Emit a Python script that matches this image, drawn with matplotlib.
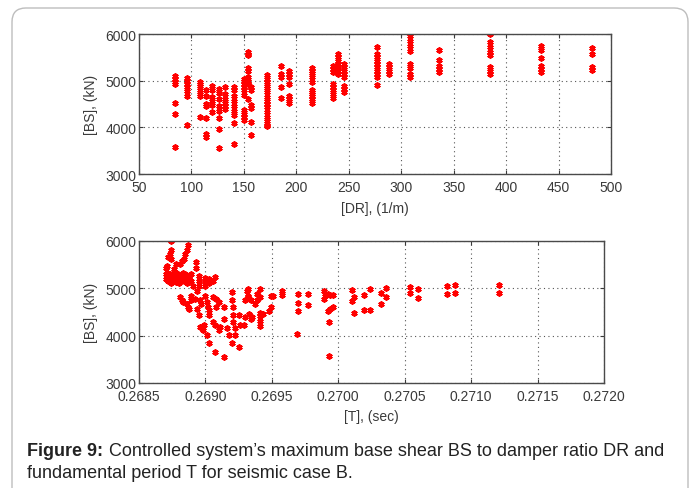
import matplotlib
matplotlib.use("Agg")
import matplotlib.pyplot as plt
from matplotlib.patches import FancyBboxPatch

plt.rcParams['font.family'] = ['Liberation Sans', 'DejaVu Sans']

# top plot: damper ratio DR vs base shear BS
dr = ([84] * 7 + [96] * 7 + [108] * 7 + [114] * 7 + [120] * 6 + [126] * 8 + [132] * 6
      + [141] * 9 + [150] * 10 + [154] * 9 + [157] * 6 + [172] * 15 + [185] * 5 + [193] * 7
      + [215] * 11 + [235] * 8 + [240] * 7 + [245] * 8 + [277] * 10 + [288] * 4 + [308] * 8
      + [336] * 5 + [385] * 8 + [433] * 6 + [482] * 4)
bs_dr = [5090, 5040, 4980, 4920, 4530, 4290, 3580,
         5066, 4990, 4920, 4860, 4775, 4680, 4040,
         4980, 4930, 4895, 4800, 4715, 4670, 4230,
         4810, 4680, 4500, 4450, 4200, 3850, 3790,
         4895, 4790, 4645, 4575, 4470, 4325,
         4825, 4730, 4600, 4450, 4340, 4200, 3970, 3555,
         4860, 4720, 4610, 4525, 4455, 4400,
         4860, 4790, 4680, 4575, 4455, 4340, 4255, 4090, 3640,
         5040, 4990, 4930, 4860, 4790, 4700, 4380, 4290, 4220, 4150,
         5610, 5570, 5540, 5265, 5215, 5075, 5000, 4930, 4610,
         4860, 4790, 4480, 4410, 4125, 3840,
         5120, 5040, 4965, 4895, 4840, 4765, 4645, 4575, 4500, 4430, 4325, 4220, 4145, 4055, 4020,
         5320, 5145, 5070, 4860, 4625,
         5200, 5145, 5070, 4930, 4680, 4610, 4525,
         5265, 5215, 5160, 5075, 4980, 4800, 4765, 4715, 4680, 4610, 4525,
         5320, 5250, 5180, 4930, 4860, 4790, 4715, 4625,
         5570, 5500, 5430, 5360, 5265, 5215, 5145,
         5360, 5290, 5215, 5145, 5075, 4895, 4825, 4755,
         5715, 5570, 5500, 5430, 5360, 5290, 5215, 5145, 5075, 4910,
         5360, 5290, 5215, 5145,
         5950, 5860, 5750, 5645, 5360, 5265, 5145, 5075,
         5665, 5450, 5320, 5250, 5180,
         6000, 5820, 5715, 5610, 5540, 5290, 5215, 5145,
         5735, 5665, 5480, 5320, 5250, 5180,
         5700, 5570, 5290, 5235]

# bottom plot: fundamental period T vs base shear BS
t_per = [0.26874, 0.26887, 0.26874, 0.26873, 0.26872, 0.26874, 0.26886, 0.26885, 0.26884,
         0.26882, 0.26881, 0.26878, 0.26876, 0.26893, 0.26893, 0.26871, 0.26870,
         0.26870, 0.26870, 0.26871, 0.26872, 0.26873, 0.26873, 0.26874, 0.26875, 0.26876,
         0.26876, 0.26877, 0.26878, 0.26879, 0.26879, 0.26880, 0.26881, 0.26882, 0.26882,
         0.26883, 0.26884, 0.26885, 0.26885, 0.26886, 0.26887, 0.26888, 0.26889, 0.26871,
         0.26877, 0.26883, 0.26874, 0.26880, 0.26886,
         0.26888, 0.26889, 0.26891, 0.26895, 0.26895, 0.26895, 0.26894, 0.26900, 0.26900,
         0.26900, 0.26903, 0.26903, 0.26907, 0.26906,
         0.26881, 0.26882, 0.26883, 0.26886, 0.26887, 0.26888, 0.26889, 0.26892, 0.26889,
         0.26896, 0.26897, 0.26894, 0.26895, 0.26900, 0.26901, 0.26902, 0.26903,
         0.26906, 0.26908, 0.26910, 0.26908, 0.26903, 0.26906, 0.26907,
         0.26896, 0.26898, 0.26901, 0.26899, 0.26903, 0.26907, 0.26914,
         0.26910, 0.26911, 0.26914, 0.26914, 0.26916, 0.26918,
         0.26920, 0.26920, 0.26921, 0.26921, 0.26921, 0.26922, 0.26922, 0.26920, 0.26925,
         0.26925, 0.26926, 0.26929, 0.26930, 0.26931, 0.26932, 0.26930,
         0.26932, 0.26932, 0.26934, 0.26933, 0.26934, 0.26935, 0.26937, 0.26939, 0.26939,
         0.26941, 0.26941, 0.26941, 0.26941, 0.26941, 0.26941, 0.26943, 0.26948, 0.26949,
         0.26949, 0.26951, 0.26958, 0.26958,
         0.26970, 0.26970, 0.26970, 0.26969, 0.26977, 0.26977,
         0.26989, 0.26990, 0.26992, 0.26994, 0.26996, 0.26989, 0.26992, 0.26994, 0.26996,
         0.26993, 0.26993,
         0.27010, 0.27010, 0.27012, 0.27012, 0.27019, 0.27019, 0.27024, 0.27024, 0.27032,
         0.27032, 0.27036, 0.27036, 0.27054, 0.27054, 0.27060, 0.27060, 0.27082, 0.27082,
         0.27088, 0.27088, 0.27121, 0.27121]
bs_t = [6000, 5920, 5820, 5715, 5665, 5610, 5805, 5715, 5625,
        5575, 5505, 5505, 5400, 5555, 5440, 5480, 5420,
        5300, 5200, 5250, 5150, 5300, 5200, 5250, 5150, 5300,
        5200, 5250, 5130, 5300, 5200, 5250, 5160, 5310, 5210,
        5260, 5150, 5300, 5200, 5250, 5170, 5230, 5300, 5330,
        5340, 5330, 5120, 5110, 5120,
        5264, 5160, 5055, 5264, 5160, 5055, 4950, 5208, 5125,
        5055, 5194, 5104, 5229, 5160,
        4813, 4743, 4708, 4674, 4604, 4570, 4847, 4778, 4743,
        4743, 4674, 4570, 4430, 4847, 4708, 4604, 4535,
        4813, 4778, 4708, 4604, 4430, 4292, 4222,
        4188, 4118, 4014, 4222, 3841, 3653, 3556,
        4118, 4188, 4604, 4361, 4153, 4014,
        4917, 4743, 4604, 4430, 4292, 4167, 4014, 3841, 3771,
        4430, 4222, 4222, 4396, 4951, 4813, 4743,
        4979, 4839, 4747, 4451, 4345, 4395, 4662, 4873, 4747,
        4979, 4817, 4486, 4416, 4310, 4205, 4451, 4521, 4606,
        4839, 4839, 4944, 4852,
        4873, 4698, 4521, 4030, 4887, 4648,
        4944, 4840, 4875, 4861, 4861, 4771, 4528, 4563, 4597,
        4285, 3570,
        4958, 4722, 4820, 4473, 4854, 4542, 4542, 4979, 4910,
        4667, 4820, 5014, 5028, 4910, 4979, 4806, 5049, 4889,
        5069, 4910, 5069, 4910]

dr_ticks = [50, 100, 150, 200, 250, 300, 350, 400, 450, 500]
t_ticks = [0.2685, 0.2690, 0.2695, 0.2700, 0.2705, 0.2710, 0.2715, 0.2720]
bs_ticks = [3000, 4000, 5000, 6000]

W, H = 695, 489
fig = plt.figure(figsize=(W / 100, H / 100), dpi=100)

# outer frame of the figure panel
frame = FancyBboxPatch((12 / W, -0.1), 676 / W, 1.1 - 9 / H,
                       boxstyle="round,pad=0,rounding_size=0.02",
                       mutation_aspect=W / H, transform=fig.transFigure,
                       fill=False, edgecolor='#bdbdbd', linewidth=1.0)
fig.patches.append(frame)

ax1 = fig.add_axes([139 / W, 1 - 175 / H, 472 / W, 140 / H])
ax2 = fig.add_axes([139 / W, 1 - 384 / H, 465 / W, 142 / H])

txt = '#3a3a3a'
fs = 10
for ax in (ax1, ax2):
    ax.set_ylim(3000, 6000)
    ax.set_yticks(bs_ticks)
    ax.grid(True, linestyle=(0, (1, 3)), color='#555555', linewidth=0.8)
    ax.tick_params(direction='in', top=True, right=True, length=3, labelsize=fs,
                   colors=txt, width=0.8)
    ax.tick_params(axis='x', pad=4)
    ax.tick_params(axis='y', pad=2)
    for s in ax.spines.values():
        s.set_color('#4a4a4a')
        s.set_linewidth(1.0)
    ax.set_ylabel('[BS], (kN)', fontsize=fs, color=txt, labelpad=5)

mk = dict(linestyle='none', marker=(6, 2, 0), markersize=4.5, color='red',
          markeredgewidth=1.3)
ax1.plot(dr, bs_dr, **mk)
ax1.set_xlim(50, 500)
ax1.set_xticks(dr_ticks)
ax1.set_xlabel('[DR], (1/m)', fontsize=fs, color=txt, labelpad=5)

ax2.plot(t_per, bs_t, **mk)
ax2.set_xlim(0.2685, 0.2720)
ax2.set_xticks(t_ticks)
ax2.set_xticklabels(['%.4f' % v for v in t_ticks])
ax2.set_xlabel('[T], (sec)', fontsize=fs, color=txt, labelpad=5)

# caption with bold lead
fig.canvas.draw()
renderer = fig.canvas.get_renderer()
y1 = 1 - 452 / H
lead = fig.text(27 / W, y1, 'Figure 9:', fontsize=13, fontweight='bold',
                va='center', color='#222222')
bb = lead.get_window_extent(renderer)
fig.text((bb.x1 + 6) / W, y1,
         'Controlled system\u2019s maximum base shear BS to damper ratio DR and',
         fontsize=13, va='center', color='#222222')
fig.text(27 / W, 1 - 474 / H, 'fundamental period T for seismic case B.',
         fontsize=13, va='center', color='#222222')

fig.savefig('out.png', dpi=100)
